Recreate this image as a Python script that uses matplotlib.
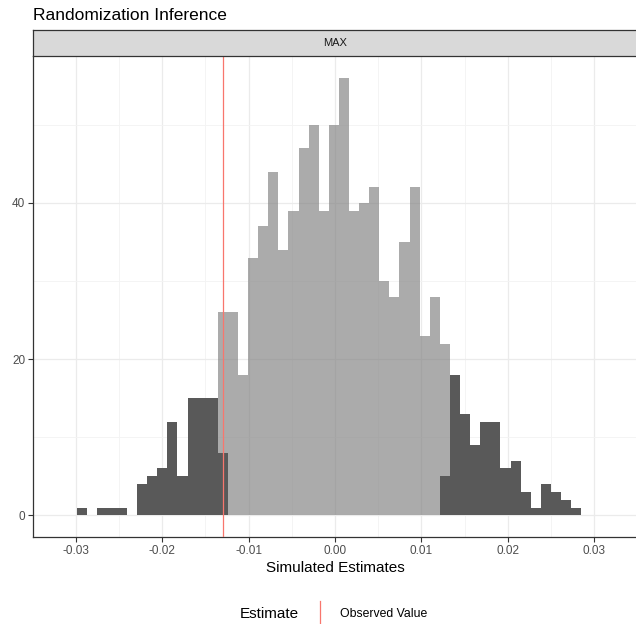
import numpy as np
import matplotlib.pyplot as plt
from matplotlib.lines import Line2D

plt.rcParams.update({
    "font.family": ["Liberation Sans", "DejaVu Sans"],
})

# histogram: 50 bins, counts
bin_left = -0.029936
bin_width = 0.0011689
total_counts = [1, 0, 1, 1, 1, 0, 4, 5, 6, 12,
                5, 15, 15, 15, 26, 26, 18, 33, 37, 44,
                34, 39, 47, 50, 39, 50, 56, 39, 40, 42,
                30, 28, 35, 42, 23, 28, 22, 18, 13, 9,
                12, 12, 6, 7, 3, 1, 4, 3, 2, 1]
# part of each bin beyond the observed value (|x| >= |obs|)
tail_counts = [1, 0, 1, 1, 1, 0, 4, 5, 6, 12,
               5, 15, 15, 15, 8, 0, 0, 0, 0, 0,
               0, 0, 0, 0, 0, 0, 0, 0, 0, 0,
               0, 0, 0, 0, 0, 0, 5, 18, 13, 9,
               12, 12, 6, 7, 3, 1, 4, 3, 2, 1]
observed = -0.013
panel_label = "MAX"
x_ticks = [-0.03, -0.02, -0.01, 0.00, 0.01, 0.02, 0.03]
y_ticks = [0, 20, 40]

W, H = 636, 624
fig = plt.figure(figsize=(W / 100, H / 100), dpi=100)

# panel box in pixels (ggplot panel runs a pixel past the right edge)
px_left, px_right, px_top, px_bot = 32.8, 637.2, 56.1, 537.2
strip_h = 26
ax = fig.add_axes([px_left / W, 1 - px_bot / H, (px_right - px_left) / W, (px_bot - px_top) / H])
strip = fig.add_axes([px_left / W, 1 - px_top / H, (px_right - px_left) / W, strip_h / H])

edges = bin_left + bin_width * np.arange(len(total_counts) + 1)
ax.bar(edges[:-1], total_counts, width=bin_width, align="edge",
       color="#7F7F7F", alpha=0.65, linewidth=0, zorder=2)
ax.bar(edges[:-1], tail_counts, width=bin_width, align="edge",
       color="#595959", linewidth=0, zorder=3)
ax.axvline(observed, color="#F8766D", linewidth=0.9, zorder=4)

# ggplot-style 5% expansion
lo, hi = edges[0], edges[-1]
pad = 0.05 * (hi - lo)
ax.set_xlim(lo - pad, hi + pad)
ymax = max(total_counts)
ax.set_ylim(-0.05 * ymax, 1.05 * ymax)

ax.set_xticks(x_ticks)
ax.set_xticklabels([f"{t:.2f}" for t in x_ticks])
ax.set_xticks(np.arange(-0.035, 0.036, 0.01), minor=True)
ax.set_yticks(y_ticks)
ax.set_yticks([10, 30, 50], minor=True)
ax.tick_params(which="major", labelsize=8.5, labelcolor="#4D4D4D",
               color="#333333", length=3.5, width=0.8, pad=2)
ax.tick_params(which="minor", length=0)
ax.grid(which="major", color="#EBEBEB", linewidth=0.9)
ax.grid(which="minor", color="#F3F3F3", linewidth=0.6)
ax.set_axisbelow(True)
for side in ["top", "right"]:
    ax.spines[side].set_visible(False)
for side in ["left", "bottom"]:
    ax.spines[side].set_color("#333333")
    ax.spines[side].set_linewidth(0.9)
ax.set_xlabel("Simulated Estimates", fontsize=11, labelpad=3)

strip.set_facecolor("#D9D9D9")
strip.set_xticks([])
strip.set_yticks([])
for s in strip.spines.values():
    s.set_color("#333333")
    s.set_linewidth(0.9)
strip.text(0.5, 0.5, panel_label, ha="center", va="center",
           fontsize=8, color="#1A1A1A", transform=strip.transAxes)

fig.text(px_left / W, 1 - 15 / H, "Randomization Inference",
         ha="left", va="center", fontsize=12.5)

# legend at bottom
fig.text(299 / W, 1 - 614 / H, "Estimate", ha="right", va="center", fontsize=11)
fig.add_artist(Line2D([320 / W, 320 / W], [1 - 601 / H, 1 - 627 / H],
                      color="#F8766D", linewidth=0.9, transform=fig.transFigure))
fig.text(340 / W, 1 - 614 / H, "Observed Value", ha="left", va="center", fontsize=8.8)

fig.savefig("out.png", dpi=100)
